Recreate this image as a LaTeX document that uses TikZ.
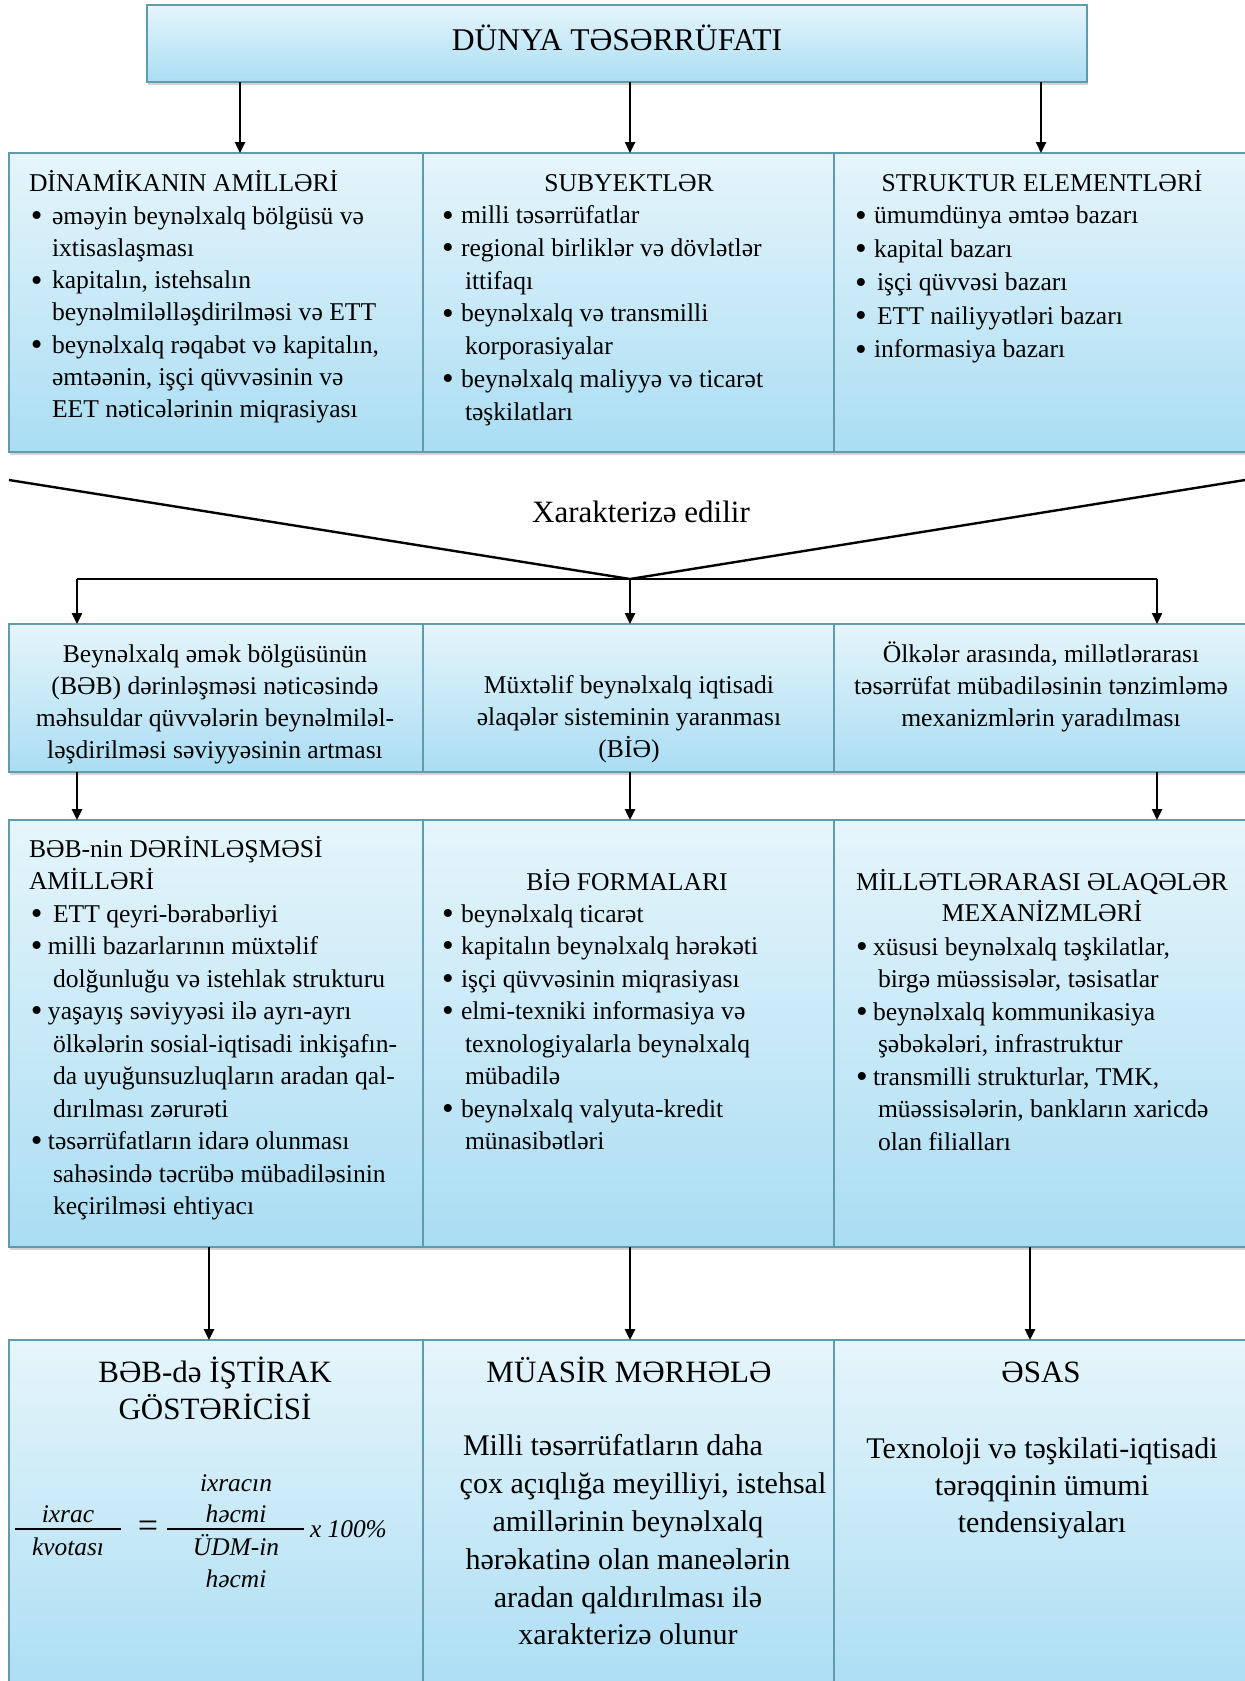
\documentclass[tikz,border=0pt]{standalone}
\usepackage{fontspec}
\usepackage{graphicx}
\setmainfont{Liberation Serif}
\usetikzlibrary{arrows.meta,shadows,fit}
\definecolor{boxtop}{RGB}{230,245,251}
\definecolor{boxbot}{RGB}{170,221,243}
\definecolor{boxline}{RGB}{95,155,170}
\newcommand{\bu}[1]{\makebox[#1][l]{\raisebox{-1.2pt}{\scalebox{1.3}{\textbullet}}}}
\newcommand{\ci}[1]{\hspace*{#1}}
\begin{document}
\begin{tikzpicture}[x=0.5pt,y=-0.5pt,
  box/.style={draw=boxline, line width=0.9pt, top color=boxtop, bottom color=boxbot,
    inner sep=0pt, outer sep=0pt,
    drop shadow={shadow xshift=0.5pt, shadow yshift=-1.5pt, opacity=0.35, fill=gray}},
  arr/.style={draw=black, line width=1.2pt, -{Triangle[length=5.5pt,width=5pt]}},
  ln/.style={draw=black, line width=1.2pt},
  tl/.style={inner sep=0pt, outer sep=0pt, anchor=north west, align=left},
  tc/.style={inner sep=0pt, outer sep=0pt, anchor=north, align=center},
  hw/.style={inner sep=0pt, outer sep=0pt, anchor=base west},
  hc/.style={inner sep=0pt, outer sep=0pt, anchor=base},
]
\useasboundingbox (0,0) rectangle (1245,1681);
\clip (0,0) rectangle (1245,1681);

% ---------- boxes ----------
\node[box, fit={(147,5) (1087,82)}] (top) {};
\node[box, fit={(9,153) (423,452)}] (b11) {};
\node[box, fit={(423,153) (834,452)}] (b12) {};
\node[box, fit={(834,153) (1250,452)}] (b13) {};
\node[box, fit={(9,624) (423,772)}] (b21) {};
\node[box, fit={(423,624) (834,772)}] (b22) {};
\node[box, fit={(834,624) (1250,772)}] (b23) {};
\node[box, fit={(9,820) (423,1247)}] (b31) {};
\node[box, fit={(423,820) (834,1247)}] (b32) {};
\node[box, fit={(834,820) (1250,1247)}] (b33) {};
\node[box, fit={(9,1340) (423,1700)}] (b41) {};
\node[box, fit={(423,1340) (834,1700)}] (b42) {};
\node[box, fit={(834,1340) (1250,1700)}] (b43) {};

% ---------- connectors ----------
\coordinate (a1) at (240,0);
\coordinate (a2) at (630,0);
\coordinate (a3) at (1041,0);
\draw[arr] (top.south -| a1) -- (b11.north -| a1);
\draw[arr] (top.south -| a2) -- (b12.north -| a2);
\draw[arr] (top.south -| a3) -- (b13.north -| a3);

\coordinate (vl) at (9,480);
\coordinate (vr) at (1245,480);
\coordinate (vm) at (630,579);
\coordinate (hl) at (77,579);
\coordinate (hr) at (1157,579);
\draw[ln] (vl) -- (vm) -- (vr);
\draw[ln] (hl) -- (hr);
\draw[arr] (hl) -- (b21.north -| hl);
\draw[arr] (vm) -- (b22.north -| vm);
\draw[arr] (hr) -- (b23.north -| hr);

\draw[arr] (b21.south -| hl) -- (b31.north -| hl);
\draw[arr] (b22.south -| vm) -- (b32.north -| vm);
\draw[arr] (b23.south -| hr) -- (b33.north -| hr);

\coordinate (c1) at (209,0);
\coordinate (c3) at (1030,0);
\draw[arr] (b31.south -| c1) -- (b41.north -| c1);
\draw[arr] (b32.south -| vm) -- (b42.north -| vm);
\draw[arr] (b33.south -| c3) -- (b43.north -| c3);

% ---------- title and label ----------
\node[hc, font=\fontsize{15.8}{18}\selectfont] (ttl) at (617,50) {DÜNYA TƏSƏRRÜFATI};
\node[hc, font=\fontsize{15.5}{18}\selectfont] (xar) at (641,522) {Xarakterizə edilir};

% ---------- row 1 ----------
\node[hw, font=\fontsize{12.8}{16.2}\selectfont] (h11) at (29,191) {DİNAMİKANIN AMİLLƏRİ};
\node[tl, font=\fontsize{12.8}{16.15}\selectfont] (t11) at (31,201.4) {%
\strut\bu{10.5pt}əməyin beynəlxalq bölgüsü və\\
\ci{10.5pt}ixtisaslaşması\\
\bu{10.5pt}kapitalın, istehsalın\\
\ci{10.5pt}beynəlmiləlləşdirilməsi və ETT\\
\bu{10.5pt}beynəlxalq rəqabət və kapitalın,\\
\ci{10.5pt}əmtəənin, işçi qüvvəsinin və\\
\ci{10.5pt}EET nəticələrinin miqrasiyası};

\node[hc, font=\fontsize{12.8}{16.2}\selectfont] (h12) at (629,191) {SUBYEKTLƏR};
\node[tl, font=\fontsize{12.8}{16.35}\selectfont] (t12) at (442,201) {%
\strut\bu{9.5pt}milli təsərrüfatlar\\
\bu{9.5pt}regional birliklər və dövlətlər\\
\ci{11.5pt}ittifaqı\\
\bu{9.5pt}beynəlxalq və transmilli\\
\ci{11.5pt}korporasiyalar\\
\bu{9.5pt}beynəlxalq maliyyə və ticarət\\
\ci{11.5pt}təşkilatları};

\node[hc, font=\fontsize{12.8}{16.2}\selectfont] (h13) at (1042,191) {STRUKTUR ELEMENTLƏRİ};
\node[tl, font=\fontsize{12.8}{16.75}\selectfont] (t13) at (855,200.5) {%
\strut\bu{9.5pt}ümumdünya əmtəə bazarı\\
\bu{9.5pt}kapital bazarı\\
\bu{11pt}işçi qüvvəsi bazarı\\
\bu{11pt}ETT nailiyyətləri bazarı\\
\bu{9.5pt}informasiya bazarı};

% ---------- row 2 ----------
\node[tc, font=\fontsize{12.8}{16}\selectfont] (t21) at (215,639.6) {%
\strut Beynəlxalq əmək bölgüsünün\\
(BƏB) dərinləşməsi nəticəsində\\
məhsuldar qüvvələrin beynəlmiləl-\\
ləşdirilməsi səviyyəsinin artması};
\node[tc, font=\fontsize{12.8}{16}\selectfont] (t22) at (629,670.6) {%
\strut Müxtəlif beynəlxalq iqtisadi\\
əlaqələr sisteminin yaranması\\
(BİƏ)};
\node[tc, font=\fontsize{12.8}{16}\selectfont] (t23) at (1041,639.6) {%
\strut Ölkələr arasında, millətlərarası\\
təsərrüfat mübadiləsinin tənzimləmə\\
mexanizmlərin yaradılması};

% ---------- row 3 ----------
\node[tl, font=\fontsize{12.8}{16.25}\selectfont] (h31) at (29,834.3) {%
\strut BƏB-nin DƏRİNLƏŞMƏSİ\\
AMİLLƏRİ};
\node[tl, font=\fontsize{12.8}{16.25}\selectfont] (t31) at (31,899.3) {%
\strut\bu{11pt}ETT qeyri-bərabərliyi\\
\bu{8.5pt}milli bazarlarının müxtəlif\\
\ci{11pt}dolğunluğu və istehlak strukturu\\
\bu{8.5pt}yaşayış səviyyəsi ilə ayrı-ayrı\\
\ci{11pt}ölkələrin sosial-iqtisadi inkişafın-\\
\ci{11pt}da uyuğunsuzluqların aradan qal-\\
\ci{11pt}dırılması zərurəti\\
\bu{8.5pt}təsərrüfatların idarə olunması\\
\ci{11pt}sahəsində təcrübə mübadiləsinin\\
\ci{11pt}keçirilməsi ehtiyacı};

\node[hc, font=\fontsize{12.8}{16.2}\selectfont] (h32) at (627,890) {BİƏ FORMALARI};
\node[tl, font=\fontsize{12.8}{16.25}\selectfont] (t32) at (442,899.3) {%
\strut\bu{9.5pt}beynəlxalq ticarət\\
\bu{9.5pt}kapitalın beynəlxalq hərəkəti\\
\bu{9.5pt}işçi qüvvəsinin miqrasiyası\\
\bu{9.5pt}elmi-texniki informasiya və\\
\ci{11.5pt}texnologiyalarla beynəlxalq\\
\ci{11.5pt}mübadilə\\
\bu{9.5pt}beynəlxalq valyuta-kredit\\
\ci{11.5pt}münasibətləri};

\node[tc, font=\fontsize{12.8}{15.5}\selectfont] (h33) at (1042,868.3) {%
\strut MİLLƏTLƏRARASI ƏLAQƏLƏR\\
MEXANİZMLƏRİ};
\node[tl, font=\fontsize{12.8}{16.25}\selectfont] (t33) at (856,932.3) {%
\strut\bu{8.5pt}xüsusi beynəlxalq təşkilatlar,\\
\ci{11pt}birgə müəssisələr, təsisatlar\\
\bu{8.5pt}beynəlxalq kommunikasiya\\
\ci{11pt}şəbəkələri, infrastruktur\\
\bu{8.5pt}transmilli strukturlar, TMK,\\
\ci{11pt}müəssisələrin, bankların xaricdə\\
\ci{11pt}olan filialları};

% ---------- row 4 ----------
\node[tc, font=\fontsize{15.5}{18.5}\selectfont] (h41) at (215,1356.1) {%
\strut BƏB-də İŞTİRAK\\
GÖSTƏRİCİSİ};

\node[hc, font=\fontsize{12.7}{15}\selectfont\itshape] (fa) at (68,1522) {ixrac};
\node[hc, font=\fontsize{12.7}{15}\selectfont\itshape] (fb) at (68,1555) {kvotası};
\coordinate (fl1) at (15,1529);
\coordinate (fl2) at (121,1529);
\draw[line width=0.8pt] (fl1) -- (fl2);
\node[inner sep=0pt, font=\fontsize{18}{20}\selectfont] (eq) at (148,1529) {=};
\node[hc, font=\fontsize{12.7}{15}\selectfont\itshape] (fc) at (236,1491) {ixracın};
\node[hc, font=\fontsize{12.7}{15}\selectfont\itshape] (fd) at (236,1522) {həcmi};
\node[hc, font=\fontsize{12.7}{15}\selectfont\itshape] (fe) at (236,1555) {ÜDM-in};
\node[hc, font=\fontsize{12.7}{15}\selectfont\itshape] (ff) at (236,1587) {həcmi};
\coordinate (fr1) at (167,1529);
\coordinate (fr2) at (304,1529);
\draw[line width=0.8pt] (fr1) -- (fr2);
\node[hw, font=\fontsize{12.7}{15}\selectfont\itshape] (fg) at (310,1537) {x 100\%};

\node[hc, font=\fontsize{15.5}{18.5}\selectfont] (h42) at (629,1382) {MÜASİR MƏRHƏLƏ};
\node[tc, font=\fontsize{15}{18.9}\selectfont] (t42) at (628,1429.5) {%
\strut Milli təsərrüfatların daha\hspace*{15pt}\\
\hspace*{15pt}çox açıqlığa meyilliyi, istehsal\\
amillərinin beynəlxalq\\
hərəkatinə olan maneələrin\\
aradan qaldırılması ilə\\
xarakterizə olunur};

\node[hc, font=\fontsize{15.5}{18.5}\selectfont] (h43) at (1041,1382) {ƏSAS};
\node[tc, font=\fontsize{15}{18.5}\selectfont] (t43) at (1042,1432.1) {%
\strut Texnoloji və təşkilati-iqtisadi\\
tərəqqinin ümumi\\
tendensiyaları};
\end{tikzpicture}
\end{document}
